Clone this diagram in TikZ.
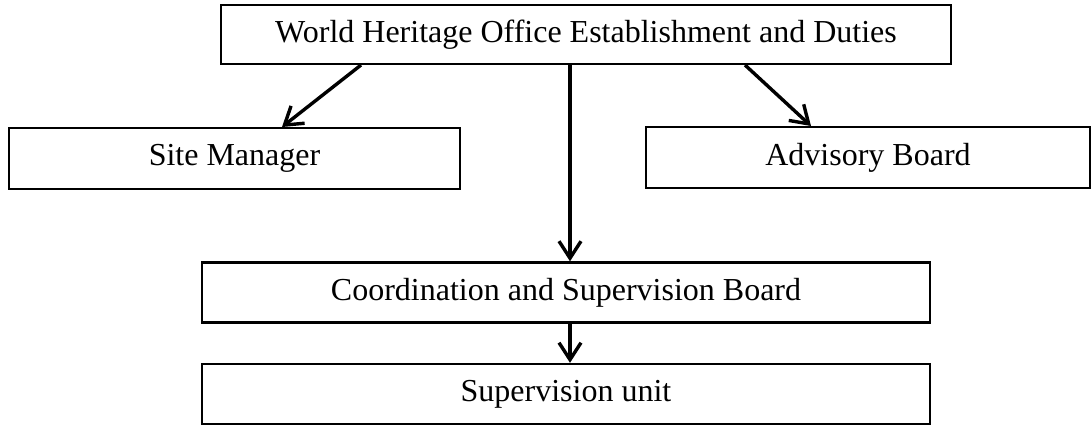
\documentclass[tikz,border=0pt]{standalone}
\usepackage{fontspec}
\setmainfont{Liberation Serif}
\usetikzlibrary{arrows.meta}

\begin{document}
\begin{tikzpicture}[x=0.5pt,y=-0.5pt,
        box/.style={draw=black, line width=1pt, inner sep=0pt,
          font=\fontsize{16}{19}\selectfont},
        arr/.style={line width=1.7pt, -{Straight Barb[length=8.5pt,width=11pt,line width=1.7pt]}}]
        \useasboundingbox (0,0) rectangle (1092,425);
        \node [box, minimum width=365pt, minimum height=29.5pt] (office) at (586,34.5) {World Heritage Office Establishment and Duties};
        \node [box, minimum width=225.5pt, minimum height=30.5pt] (site) at (234.5,158.5) {Site Manager};
        \node [box, minimum width=222pt, minimum height=30.5pt] (advisory) at (868,157.5) {Advisory Board};
        \node [box, line width=1.2pt, minimum width=364pt, minimum height=30pt] (coord) at (566,292.5) {Coordination and Supervision Board};
        \node [box, line width=1.2pt, minimum width=364pt, minimum height=30pt] (unit) at (566,394) {Supervision unit};
        \draw [arr] ([xshift=-112.5pt]office.south) -- ([xshift=23.75pt]site.north);
        \draw [arr] ([xshift=79.5pt]office.south) -- ([xshift=-28.5pt]advisory.north);
        \draw [arr] ([xshift=-8pt]office.south) -- ([xshift=2pt]coord.north);
        \draw [arr] ([xshift=2pt]coord.south) -- ([xshift=2pt]unit.north);
\end{tikzpicture}
\end{document}
